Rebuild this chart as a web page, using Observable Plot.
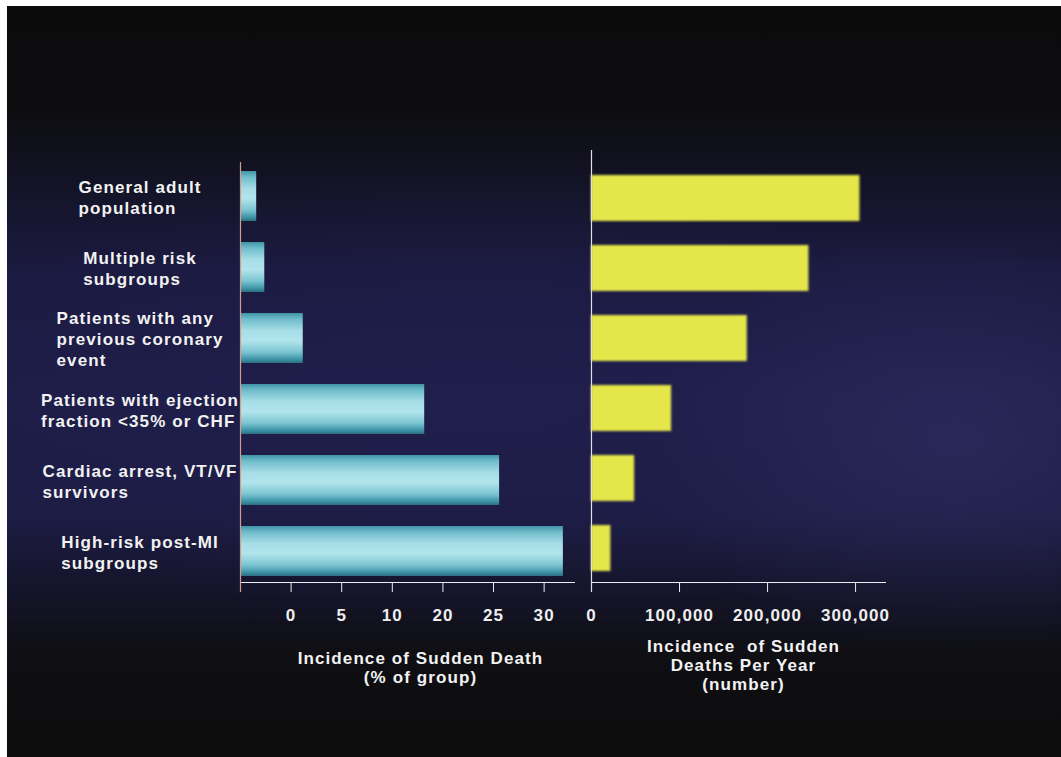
<!DOCTYPE html>
<html>
<head>
<meta charset="utf-8">
<script src="https://cdn.jsdelivr.net/npm/d3@7"></script>
<script src="https://cdn.jsdelivr.net/npm/@observablehq/plot@0.6"></script>
<style>
  html, body { margin: 0; padding: 0; background: #0c0c0c; overflow: hidden; }
  #page { position: relative; width: 1061px; height: 757px; background: #0c0c0c; overflow: hidden; }
  #bg {
    position: absolute; left: 0; top: 0; right: 0; bottom: 0;
    background:
      radial-gradient(ellipse 30% 28% at 90% 58%, rgba(52,50,104,0.5), rgba(52,50,104,0) 100%),
      radial-gradient(ellipse 60% 30% at 45% 52%, rgba(36,34,84,0.35), rgba(36,34,84,0) 100%),
      linear-gradient(to bottom, #0b0b0c 0%, #0d0d10 15%, #131326 24%, #1b1a40 36%, #1e1d48 52%, #1d1c44 68%, #14142a 78%, #0f0f14 86%, #0c0c0c 100%);
  }
  #edgeTop { position: absolute; left: 0; top: 0; width: 1061px; height: 6px; background: #ffffff; }
  #edgeLeft { position: absolute; left: 0; top: 0; width: 7px; height: 757px; background: #ffffff; }
  .layer { position: absolute; left: 0; top: 0; }
</style>
</head>
<body>
<div id="page">
  <div id="bg"></div>
  <div id="left" class="layer"></div>
  <div id="right" class="layer"></div>
  <div id="edgeTop"></div>
  <div id="edgeLeft"></div>
</div>
<script>
// ---- data ----
const categories = [
  "General adult\npopulation",
  "Multiple risk\nsubgroups",
  "Patients with any\nprevious coronary\nevent",
  "Patients with ejection\nfraction <35% or CHF",
  "Cardiac arrest, VT/VF\nsurvivors",
  "High-risk post-MI\nsubgroups"
];
const incidencePercent = [1.6, 2.4, 6.2, 18.2, 25.6, 31.9];
const deathsPerYear = [305000, 247000, 177000, 91000, 49000, 22000];
const leftTickValues = [5, 10, 15, 20, 25, 30];
const leftTickLabels = ["0", "5", "10", "20", "25", "30"];
const rightTickValues = [0, 100000, 200000, 300000];
const leftTitle = "Incidence of Sudden Death\n(% of group)";
const rightTitle = "Incidence  of Sudden\nDeaths Per Year\n(number)";

const leftData = categories.map((c, i) => ({category: c, value: incidencePercent[i]}));
const rightData = categories.map((c, i) => ({category: c, value: deathsPerYear[i]}));

const W = 1061, H = 757;
const FONT = '"Liberation Sans", Arial, Helvetica, sans-serif';
const FS = 17, LS = 1.1;
const baseStyle = {
  fontFamily: FONT, fontSize: FS + "px", fontWeight: "bold",
  letterSpacing: LS + "px", color: "#eeeeee", background: "transparent", overflow: "visible"
};

// measure label blocks to center each left-aligned block
const ctx = document.createElement("canvas").getContext("2d");
ctx.font = `bold ${FS}px ${FONT}`;
function blockWidth(s) {
  return d3.max(s.split("\n"), l => ctx.measureText(l).width + LS * (l.length - 1));
}
const labelCenter = 139;
const leftAxisX = 240;

const defsLeft = () => {
  const defs = document.createElementNS("http://www.w3.org/2000/svg", "defs");
  defs.innerHTML = `
    <linearGradient id="cyanGrad" x1="0" y1="0" x2="0" y2="1">
      <stop offset="0%" stop-color="#3f93a6"/>
      <stop offset="12%" stop-color="#6fbccb"/>
      <stop offset="35%" stop-color="#a6dde6"/>
      <stop offset="55%" stop-color="#b2e4eb"/>
      <stop offset="78%" stop-color="#7cc5d2"/>
      <stop offset="92%" stop-color="#3f96a8"/>
      <stop offset="100%" stop-color="#2a6f80"/>
    </linearGradient>`;
  return defs;
};
const defsRight = () => {
  const defs = document.createElementNS("http://www.w3.org/2000/svg", "defs");
  defs.innerHTML = `
    <filter id="soft" x="-5%" y="-10%" width="110%" height="120%">
      <feGaussianBlur stdDeviation="1.3"/>
    </filter>`;
  return defs;
};

const leftPlot = Plot.plot({
  width: W, height: H,
  marginLeft: leftAxisX, marginRight: W - 574, marginTop: 162, marginBottom: H - 582,
  style: baseStyle,
  x: {domain: [0, 33], ticks: leftTickValues, tickFormat: d => leftTickLabels[leftTickValues.indexOf(d)],
      tickSize: 10, tickPadding: 16, label: null, line: true},
  y: {domain: categories, axis: null, paddingInner: 0.3, paddingOuter: 0.091, align: 0.615},
  marks: [
    defsLeft,
    Plot.barX(leftData, {x: "value", y: "category", fill: "url(#cyanGrad)"}),
    Plot.ruleX([0], {stroke: "#d79a8e", strokeWidth: 1.2, insetBottom: -10}),
    ...categories.map(c => Plot.text([c], {
      y: d => d, text: d => d, frameAnchor: "left", textAnchor: "start", lineAnchor: "middle",
      lineHeight: 1.22, fill: "#f2f2f2",
      dx: labelCenter - leftAxisX - blockWidth(c) / 2
    })),
    Plot.text([leftTitle], {frameAnchor: "bottom", lineAnchor: "top", dy: 68, dx: 13,
      lineHeight: 1.12, fill: "#f2f2f2"})
  ]
});
document.getElementById("left").appendChild(leftPlot);

const rightPlot = Plot.plot({
  width: W, height: H,
  marginLeft: 591, marginRight: W - 885, marginTop: 150, marginBottom: H - 582,
  style: baseStyle,
  x: {domain: [0, 334000], ticks: rightTickValues, tickFormat: d3.format(","),
      tickSize: 10, tickPadding: 16, label: null, line: true},
  y: {domain: categories, axis: null, paddingInner: 0.347, paddingOuter: 0.2376, align: 0.687},
  marks: [
    defsRight,
    Plot.barX(rightData, {x: "value", y: "category", fill: "#e4e64a"}),
    Plot.ruleX([0], {stroke: "#e6dde6", strokeWidth: 1.2, insetBottom: -10}),
    Plot.text([rightTitle], {frameAnchor: "bottom", lineAnchor: "top", dy: 56, dx: 5,
      lineHeight: 1.12, fill: "#f2f2f2"})
  ]
});
document.getElementById("right").appendChild(rightPlot);
const yb = rightPlot.querySelector('g[aria-label="bar"]');
if (yb) yb.setAttribute("filter", "url(#soft)");
</script>
</body>
</html>
